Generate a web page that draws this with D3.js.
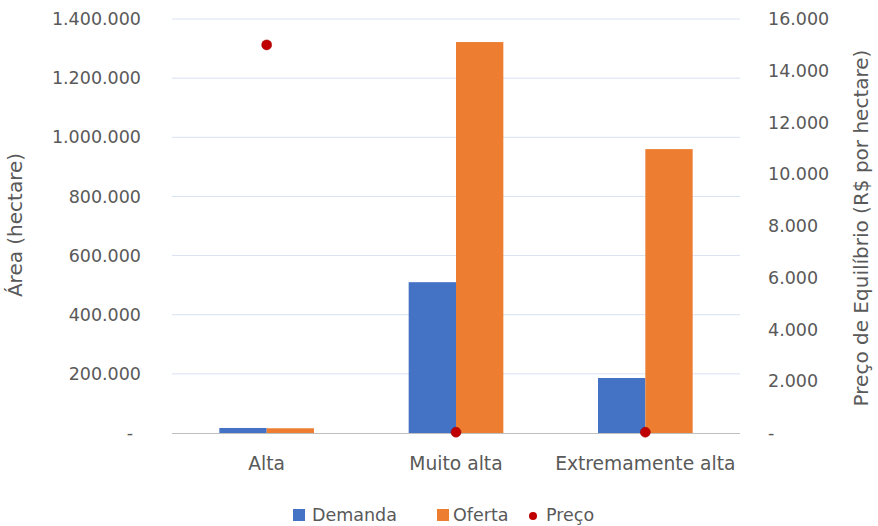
<!DOCTYPE html>
<html>
<head>
<meta charset="utf-8">
<script src="https://cdn.jsdelivr.net/npm/d3@7"></script>
<style>
  body { margin: 0; background: #fff; }
  svg text { font-family: "DejaVu Sans", sans-serif; fill: #595959; }
</style>
</head>
<body>
<svg id="chart" width="878" height="526"></svg>
<script>
// Área (hectare) por classe de aptidão, e preço de equilíbrio
const categories = ["Alta", "Muito alta", "Extremamente alta"];
const demanda = [17000, 510000, 186000];
const oferta = [16000, 1322000, 960000];
const preco = [15000, 30, 30];
const leftTicks = [0, 200000, 400000, 600000, 800000, 1000000, 1200000, 1400000];
const rightTicks = [0, 2000, 4000, 6000, 8000, 10000, 12000, 14000, 16000];

const svg = d3.select("#chart");
const m = { left: 172, right: 740, top: 19, bottom: 433 };
const fs = 17.5;

const fmt = v => v === 0 ? "-" : d3.format(",")(v).replace(/,/g, ".");

const x = d3.scaleBand().domain(categories).range([m.left, m.right]).paddingInner(0.5).paddingOuter(0.25);
const xc = d3.scaleBand().domain(categories).range([m.left, m.right]);
const yL = d3.scaleLinear().domain([0, 1400000]).range([m.bottom, m.top]);
const yR = d3.scaleLinear().domain([0, 16000]).range([m.bottom, m.top]);

// gridlines
svg.append("g").selectAll("line").data(leftTicks.filter(d => d > 0)).join("line")
  .attr("x1", m.left).attr("x2", m.right)
  .attr("y1", d => yL(d)).attr("y2", d => yL(d))
  .attr("stroke", "#d9e2f3").attr("stroke-width", 1);

// left axis labels
svg.append("g").selectAll("text").data(leftTicks).join("text")
  .attr("x", d => d === 0 ? 133 : 141).attr("y", d => yL(d)).attr("dy", "0.35em")
  .attr("text-anchor", "end").attr("font-size", fs).text(fmt);

// right axis labels
svg.append("g").selectAll("text").data(rightTicks).join("text")
  .attr("x", 768).attr("y", d => yR(d)).attr("dy", "0.35em")
  .attr("text-anchor", "start").attr("font-size", fs).text(fmt);

// bars
const bw = x.bandwidth() / 2;
const bars = svg.append("g");
bars.selectAll("rect.d").data(categories).join("rect").attr("class", "d")
  .attr("x", d => x(d)).attr("width", bw)
  .attr("y", (d, i) => yL(demanda[i])).attr("height", (d, i) => m.bottom - yL(demanda[i]))
  .attr("fill", "#4472c4");
bars.selectAll("rect.o").data(categories).join("rect").attr("class", "o")
  .attr("x", d => x(d) + bw).attr("width", bw)
  .attr("y", (d, i) => yL(oferta[i])).attr("height", (d, i) => m.bottom - yL(oferta[i]))
  .attr("fill", "#ed7d31");

// baseline
svg.append("line").attr("x1", m.left).attr("x2", m.right)
  .attr("y1", m.bottom + 0.5).attr("y2", m.bottom + 0.5)
  .attr("stroke", "#bfbfbf").attr("stroke-width", 1);

// price markers
svg.append("g").selectAll("circle").data(categories).join("circle")
  .attr("cx", d => xc(d) + xc.bandwidth() / 2)
  .attr("cy", (d, i) => yR(preco[i]))
  .attr("r", 5).attr("fill", "#c00000").attr("stroke", "#a00000").attr("stroke-width", 0.5);

// category labels
svg.append("g").selectAll("text").data(categories).join("text")
  .attr("x", d => xc(d) + xc.bandwidth() / 2).attr("y", 463).attr("dy", "0.35em")
  .attr("text-anchor", "middle").attr("font-size", 18.7).text(d => d);

// axis titles
svg.append("text").attr("transform", "translate(22,225) rotate(-90)")
  .attr("text-anchor", "middle").attr("font-size", 20).text("Área (hectare)");
svg.append("text").attr("transform", "translate(868,228) rotate(-90)")
  .attr("text-anchor", "middle").attr("font-size", 20).text("Preço de Equilíbrio (R$ por hectare)");

// legend
const leg = svg.append("g");
const legY = 515;
leg.append("rect").attr("x", 293).attr("y", legY - 6).attr("width", 12).attr("height", 12).attr("fill", "#4472c4");
leg.append("text").attr("x", 312).attr("y", legY).attr("dy", "0.35em").attr("font-size", fs).text("Demanda");
leg.append("rect").attr("x", 437).attr("y", legY - 6).attr("width", 12).attr("height", 12).attr("fill", "#ed7d31");
leg.append("text").attr("x", 453).attr("y", legY).attr("dy", "0.35em").attr("font-size", fs).text("Oferta");
leg.append("circle").attr("cx", 533).attr("cy", legY + 1).attr("r", 4).attr("fill", "#c00000");
leg.append("text").attr("x", 546).attr("y", legY).attr("dy", "0.35em").attr("font-size", fs).text("Preço");
</script>
</body>
</html>
